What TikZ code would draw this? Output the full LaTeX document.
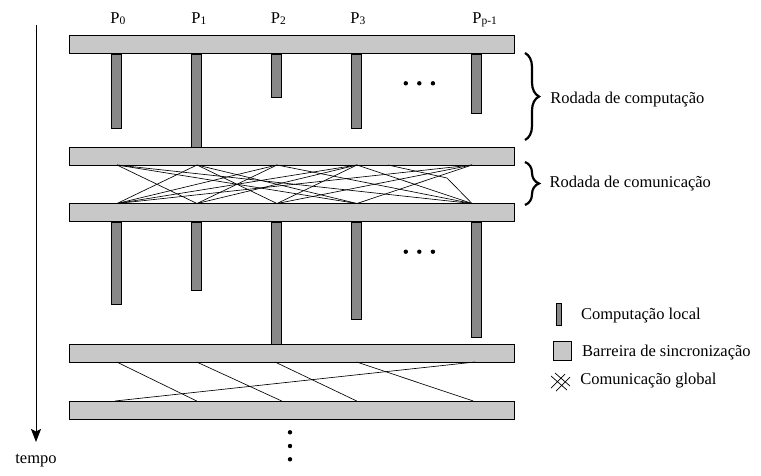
\documentclass[tikz,border=0pt]{standalone}
\usepackage{fontspec}
\setmainfont{Liberation Serif}
\usetikzlibrary{arrows.meta,decorations.pathreplacing}

\definecolor{barrierfill}{RGB}{200,200,200}
\definecolor{procfill}{RGB}{136,136,136}
\newcommand{\Psub}[1]{P\raisebox{-1pt}{\fontsize{11.5}{12}\selectfont #1}}

\begin{document}
\begin{tikzpicture}[x=1pt, y=-1pt, line width=0.8pt,
                    every node/.style={inner sep=0pt,font=\fontsize{16.5}{19}\selectfont},
                    barrier node/.style={rectangle,draw,fill=barrierfill,minimum width=445pt,minimum height=18pt},
                    proc node/.style={rectangle,draw,fill=procfill,minimum width=10pt,anchor=north},
                    label node/.style={anchor=base west}]

  \useasboundingbox (0,0) rectangle (761,475);

  % barreiras
  \node[barrier node] (1) at (291.5,44.5) {};
  \node[barrier node] (2) at (291.5,156) {};
  \node[barrier node] (3) at (291.5,212.5) {};
  \node[barrier node] (4) at (291.5,353) {};
  \node[barrier node] (5) at (291.5,410) {};

  % computacao local
  \foreach \x/\h [count=\i] in {116.7/74.8,196.7/93.5,276.7/43.8,356.7/74.2,476.7/59.8}
    \node[proc node,minimum height=\h pt] (a\i) at (\x,53.5) {};
  \foreach \x/\h [count=\i] in {116.7/82.8,196.7/68.5,276.7/122.5,356.7/97.8,476.7/115.2}
    \node[proc node,minimum height=\h pt] (b\i) at (\x,221.5) {};

  % processadores
  \foreach \x/\t [count=\i] in {110/0,191/1,270.5/2,350/3,472/{p-1}}
    \node[label node] (p\i) at (\x,23) {\Psub{\t}};

  \foreach \x in {405.8,419.3,432.9} {
    \fill (\x,83.3) circle (2.2pt);
    \fill (\x,251.7) circle (2.2pt);
  }
  \foreach \y in {432.3,446,459.3}
    \fill (290,\y) circle (2.2pt);

  % tempo
  \node[anchor=base] (tempo) at (36,463.5) {tempo};
  \coordinate (t0) at (36,25);
  \coordinate (t1) at (36,442);
  \draw[line width=1pt,-{Stealth[length=13pt,width=10pt,inset=2.5pt]}] (t0) -- (t1);

  % comunicacao
  \foreach \x [count=\i from 0] in {117,197,277,357,472} {
    \coordinate (u\i) at (\x,165);
    \coordinate (d\i) at (\x,203.5);
  }
  \foreach \x/\y [count=\i from 0] in {116.7/115,196.7/196.7,275/281.7,356.7/356.7,475/473.3} {
    \coordinate (v\i) at (\x,362);
    \coordinate (w\i) at (\y,401);
  }
  \coordinate (k0) at (388,165);
  \coordinate (k1) at (447,178);

\path[every edge/.style={draw,line width=0.65pt}]
    (u0) edge (d1)
    (u0) edge (d3)
    (u0) edge (d4)
    (u1) edge (d0)
    (u1) edge (d2)
    (u1) edge (d3)
    (u2) edge (d0)
    (u2) edge (d1)
    (u2) edge (d4)
    (u3) edge (d0)
    (u3) edge (d1)
    (u3) edge (d2)
    (u3) edge (d4)
    (u4) edge (d0)
    (u4) edge (d2)
    (u4) edge (d3)

    (v0) edge (w1)
    (v1) edge (w2)
    (v2) edge (w3)
    (v3) edge (w4)
    (v4) edge (w0);
  \draw[line width=0.65pt] (k0) -- (k1) -- (d4);

  % chaves
  \coordinate (c1) at (525,53);
  \coordinate (c2) at (525,140);
  \coordinate (c3) at (525,162);
  \coordinate (c4) at (525,205);
  \draw[decorate,decoration={brace,amplitude=14pt},line width=2.2pt] (c1) -- (c2);
  \draw[decorate,decoration={brace,amplitude=14pt},line width=2.2pt] (c3) -- (c4);
  \node[label node] (r1) at (550,103.3) {Rodada de computação};
  \node[label node] (r2) at (549.3,187.7) {Rodada de comunicação};

  % legenda
  \node[rectangle,draw,fill=procfill,minimum width=4.5pt,minimum height=22pt] (g1) at (558.7,314) {};
  \node[rectangle,draw,fill=barrierfill,minimum width=18.4pt,minimum height=19pt] (g2) at (562.5,351.2) {};
  \draw[line width=0.7pt] (551,388) -- (565,374) (556,391) -- (570,377)
                          (551,376) -- (567,390) (555,373) -- (570,386);
  \node[label node] (n1) at (580.7,319.3) {Computação local};
  \node[label node] (n2) at (581.7,356) {Barreira de sincronização};
  \node[label node] (n3) at (580,384) {Comunicação global};

\end{tikzpicture}
\end{document}
